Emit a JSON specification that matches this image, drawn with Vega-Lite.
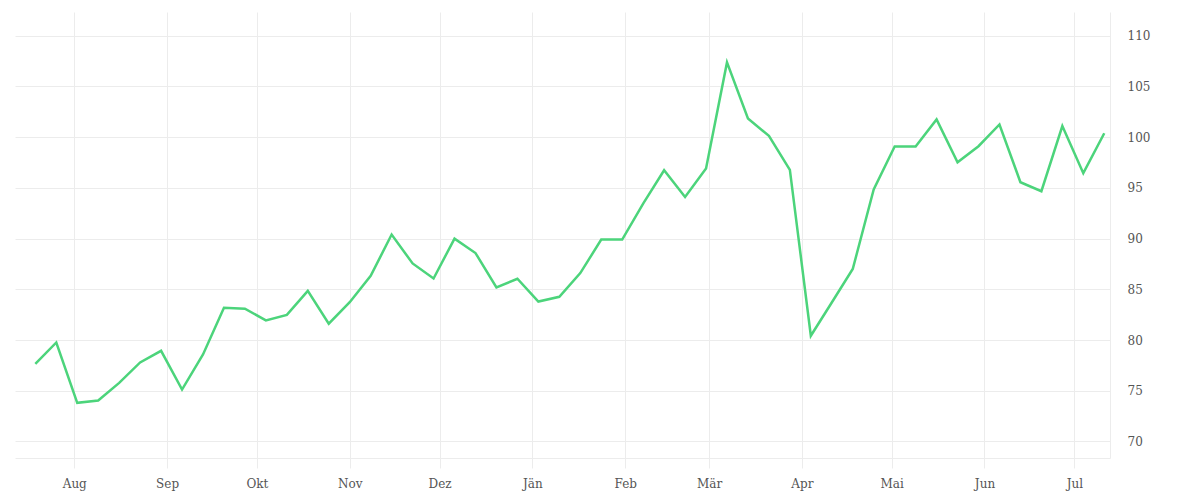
{
  "$schema": "https://vega.github.io/schema/vega-lite/v6.json",
  "width": 1095,
  "height": 446,
  "autosize": {"type": "none"},
  "padding": {"left": 15, "top": 12, "right": 90, "bottom": 42},
  "background": "white",
  "config": {
    "view": {"stroke": null},
    "font": "DejaVu Serif",
    "axis": {
      "labelFont": "DejaVu Serif",
      "labelFontSize": 12,
      "labelColor": "#555555",
      "gridColor": "#ececec",
      "gridWidth": 1,
      "domainColor": "#ececec",
      "tickColor": "#ececec",
      "title": null
    }
  },
  "data": {
    "values": [
      {"date": "2018-07-19", "value": 77.66},
      {"date": "2018-07-26", "value": 79.76},
      {"date": "2018-08-02", "value": 73.81},
      {"date": "2018-08-09", "value": 74.04},
      {"date": "2018-08-16", "value": 75.78},
      {"date": "2018-08-23", "value": 77.79},
      {"date": "2018-08-30", "value": 78.94},
      {"date": "2018-09-06", "value": 75.12},
      {"date": "2018-09-13", "value": 78.58},
      {"date": "2018-09-20", "value": 83.19},
      {"date": "2018-09-27", "value": 83.09},
      {"date": "2018-10-04", "value": 81.93},
      {"date": "2018-10-11", "value": 82.48},
      {"date": "2018-10-18", "value": 84.85},
      {"date": "2018-10-25", "value": 81.61},
      {"date": "2018-11-01", "value": 83.73},
      {"date": "2018-11-08", "value": 86.33},
      {"date": "2018-11-15", "value": 90.40},
      {"date": "2018-11-22", "value": 87.55},
      {"date": "2018-11-29", "value": 86.07},
      {"date": "2018-12-06", "value": 90.00},
      {"date": "2018-12-13", "value": 88.58},
      {"date": "2018-12-20", "value": 85.18},
      {"date": "2018-12-27", "value": 86.04},
      {"date": "2019-01-03", "value": 83.79},
      {"date": "2019-01-10", "value": 84.26},
      {"date": "2019-01-17", "value": 86.60},
      {"date": "2019-01-24", "value": 89.90},
      {"date": "2019-01-31", "value": 89.90},
      {"date": "2019-02-07", "value": 93.45},
      {"date": "2019-02-14", "value": 96.74},
      {"date": "2019-02-21", "value": 94.11},
      {"date": "2019-02-28", "value": 96.91},
      {"date": "2019-03-07", "value": 107.37},
      {"date": "2019-03-14", "value": 101.85},
      {"date": "2019-03-21", "value": 100.13},
      {"date": "2019-03-28", "value": 96.78},
      {"date": "2019-04-04", "value": 80.42},
      {"date": "2019-04-11", "value": 83.70},
      {"date": "2019-04-18", "value": 87.00},
      {"date": "2019-04-25", "value": 94.84},
      {"date": "2019-05-02", "value": 99.08},
      {"date": "2019-05-09", "value": 99.08},
      {"date": "2019-05-16", "value": 101.75},
      {"date": "2019-05-23", "value": 97.53},
      {"date": "2019-05-30", "value": 99.11},
      {"date": "2019-06-06", "value": 101.25},
      {"date": "2019-06-13", "value": 95.56},
      {"date": "2019-06-20", "value": 94.67},
      {"date": "2019-06-27", "value": 101.09},
      {"date": "2019-07-04", "value": 96.45},
      {"date": "2019-07-11", "value": 100.39}
    ]
  },
  "mark": {"type": "line", "color": "#4cd47b", "strokeWidth": 2.5, "strokeJoin": "miter"},
  "encoding": {
    "x": {
      "field": "date",
      "type": "temporal",
      "scale": {
        "type": "utc",
        "domain": [
          {"year": 2018, "month": 7, "date": 12, "hours": 5, "utc": true},
          {"year": 2019, "month": 7, "date": 12, "hours": 22, "utc": true}
        ]
      },
      "axis": {
        "values": [
          {"year": 2018, "month": 8, "date": 1, "utc": true},
          {"year": 2018, "month": 9, "date": 1, "utc": true},
          {"year": 2018, "month": 10, "date": 1, "utc": true},
          {"year": 2018, "month": 11, "date": 1, "utc": true},
          {"year": 2018, "month": 12, "date": 1, "utc": true},
          {"year": 2019, "month": 1, "date": 1, "utc": true},
          {"year": 2019, "month": 2, "date": 1, "utc": true},
          {"year": 2019, "month": 3, "date": 1, "utc": true},
          {"year": 2019, "month": 4, "date": 1, "utc": true},
          {"year": 2019, "month": 5, "date": 1, "utc": true},
          {"year": 2019, "month": 6, "date": 1, "utc": true},
          {"year": 2019, "month": 7, "date": 1, "utc": true}
        ],
        "labelExpr": "['Jän','Feb','Mär','Apr','Mai','Jun','Jul','Aug','Sep','Okt','Nov','Dez'][utcmonth(datum.value)]",
        "tickSize": 10,
        "labelPadding": 10,
        "grid": true
      }
    },
    "y": {
      "field": "value",
      "type": "quantitative",
      "scale": {"domain": [68.37, 112.34], "nice": false, "zero": false},
      "axis": {
        "orient": "right",
        "values": [70, 75, 80, 85, 90, 95, 100, 105, 110],
        "ticks": false,
        "labelPadding": 17,
        "grid": true
      }
    }
  }
}
